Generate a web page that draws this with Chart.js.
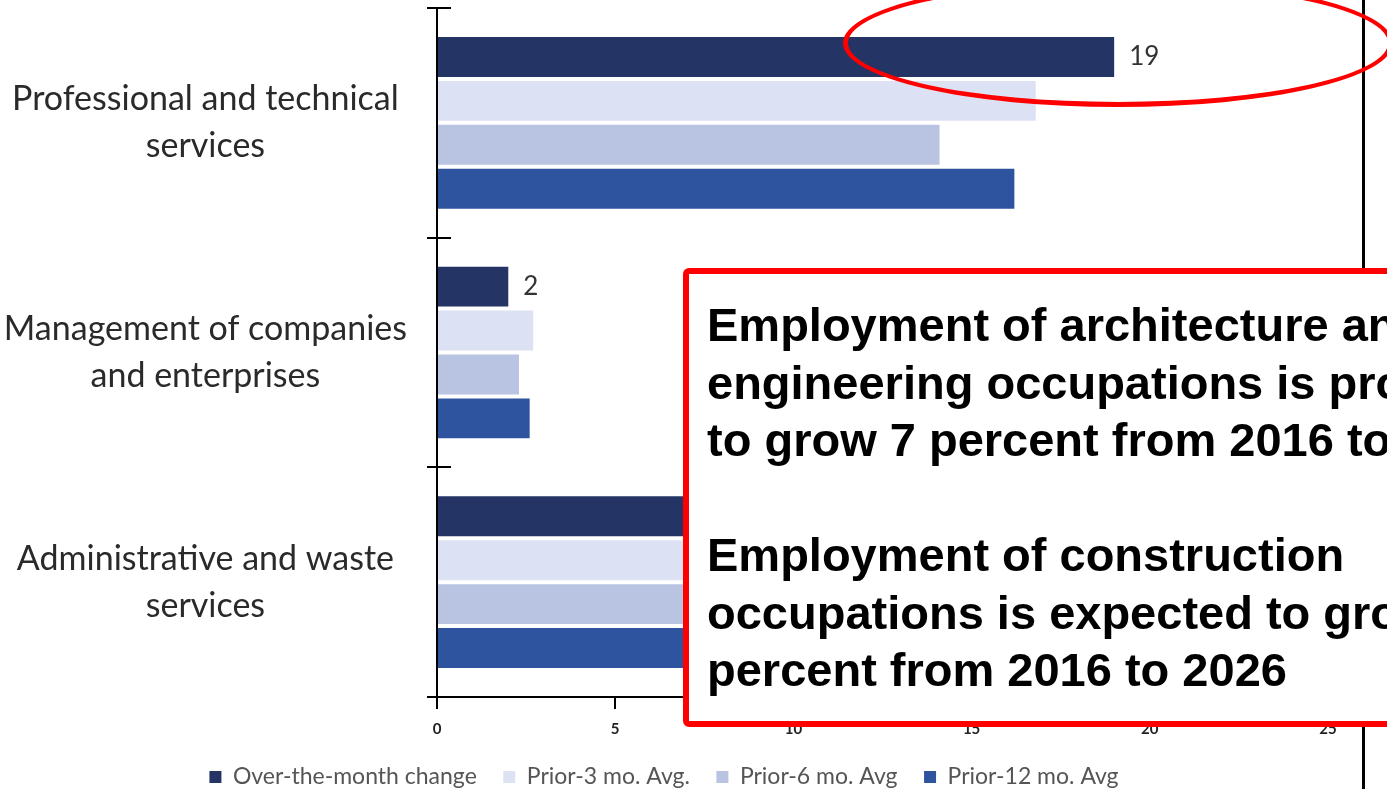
<!DOCTYPE html>
<html>
<head>
<meta charset="utf-8">
<script src="https://cdn.jsdelivr.net/npm/chart.js@4.4.0/dist/chart.umd.min.js"></script>
<style>
  html, body { margin: 0; padding: 0; background: #fff; overflow: hidden; }
  #wrap { position: relative; width: 1387px; height: 789px; overflow: hidden; }
  #chart { position: absolute; left: 0; top: 0; }
  /* red callouts laid over the chart */
  .ring {
    position: absolute; left: 843px; top: -21px; width: 540px; height: 118px;
    border: 5px solid #ff0000; border-radius: 50%;
  }
  .note {
    position: absolute; left: 683px; top: 268px; width: 760px; height: 425px;
    border: 6px solid #ff0000; border-radius: 6px; background: #fff;
    padding: 22px 0 0 18px;
    font: bold 47px/57.5px "Liberation Sans", Arial, sans-serif; color: #000;
    white-space: nowrap;
  }
  .frame { position: absolute; left: 1362px; top: 0; width: 3px; height: 789px; background: #000; }
</style>
</head>
<body>
<div id="wrap">
  <canvas id="chart" width="1387" height="789"></canvas>
  <div class="frame"></div>
  <div class="ring"></div>
  <div class="note">Employment of architecture and<br>engineering occupations is projected<br>to grow 7 percent from 2016 to 2026<br><br>Employment of construction<br>occupations is expected to grow 11<br>percent from 2016 to 2026</div>
</div>

<script>
// ── Datos ─────────────────────────────────────────────
var categorias = [
    ['Professional and technical', 'services'],
    ['Management of companies', 'and enterprises'],
    ['Administrative and waste', 'services']
];
var series = ['Over-the-month change', 'Prior-3 mo. Avg.', 'Prior-6 mo. Avg', 'Prior-12 mo. Avg'];
var cambioMes   = [19, 2, 14];
var prior3      = [16.8, 2.7, 11.5];
var prior6      = [14.1, 2.3, 10.5];
var prior12     = [16.2, 2.6, 12.5];
var ticksX      = [0, 5, 10, 15, 20, 25];

var colores = ['#233465', '#dce2f3', '#b9c3e2', '#2e54a0'];

// etiquetas de valor solo para la primera serie
var etiquetasValor = {
    id: 'etiquetasValor',
    afterDatasetsDraw: function(chart) {
        var ctx  = chart.ctx;
        var meta = chart.getDatasetMeta(0);
        ctx.save();
        ctx.font = '26px Lato, sans-serif';
        ctx.fillStyle = '#333';
        ctx.textAlign = 'left';
        ctx.textBaseline = 'middle';
        meta.data.forEach(function(bar, i) {
            ctx.fillText(String(cambioMes[i]), bar.x + 15, bar.y);
        });
        ctx.restore();
    }
};

// marcas del eje Y que cruzan la línea hacia dentro
var marcasCruzadas = {
    id: 'marcasCruzadas',
    afterDraw: function(chart) {
        var y = chart.scales.y, ctx = chart.ctx;
        ctx.save();
        ctx.strokeStyle = '#000';
        ctx.lineWidth = 2;
        for (var i = 0; i <= categorias.length; i++) {
            var py = Math.round(y.getPixelForValue(i - 0.5));
            ctx.beginPath();
            ctx.moveTo(y.right, py);
            ctx.lineTo(y.right + 14, py);
            ctx.stroke();
        }
        ctx.restore();
    }
};

new Chart(document.getElementById('chart'), {
    type: 'bar',
    data: {
        labels: categorias,
        datasets: [
            { label: series[0], data: cambioMes, backgroundColor: colores[0] },
            { label: series[1], data: prior3,    backgroundColor: colores[1] },
            { label: series[2], data: prior6,    backgroundColor: colores[2] },
            { label: series[3], data: prior12,   backgroundColor: colores[3] }
        ]
    },
    options: {
        indexAxis: 'y',
        responsive: false,
        animation: false,
        devicePixelRatio: 1,
        categoryPercentage: 0.765,
        barPercentage: 0.91,
        layout: { padding: { top: 8, right: 59, left: 0, bottom: -9.5 } },
        plugins: {
            tooltip: { enabled: false },
            legend: {
                position: 'bottom',
                labels: {
                    boxWidth: 12, boxHeight: 12, padding: 26.5,
                    color: '#555',
                    font: { family: 'Lato, sans-serif', size: 23 }
                }
            }
        },
        scales: {
            x: {
                min: 0, max: 25,
                afterBuildTicks: function(s) { s.ticks = ticksX.map(function(v) { return { value: v }; }); },
                afterFit: function(s) { s.height = 42; },
                border: { color: '#000', width: 2 },
                grid: { drawOnChartArea: false, color: '#000', lineWidth: 2, tickLength: 12 },
                ticks: { color: '#222', padding: 11, font: { family: 'Lato, sans-serif', size: 15, weight: 'bold' } }
            },
            y: {
                afterFit: function(s) { s.width = 437; s.paddingTop = 0; s.paddingBottom = 0; },
                border: { color: '#000', width: 2 },
                grid: { drawOnChartArea: false, color: '#000', lineWidth: 2, tickLength: 10 },
                ticks: {
                    crossAlign: 'center', padding: 20, color: '#2a2a2a',
                    font: { family: 'Lato, sans-serif', size: 34, lineHeight: 1.38 }
                }
            }
        }
    },
    plugins: [etiquetasValor, marcasCruzadas]
});
</script>
</body>
</html>
